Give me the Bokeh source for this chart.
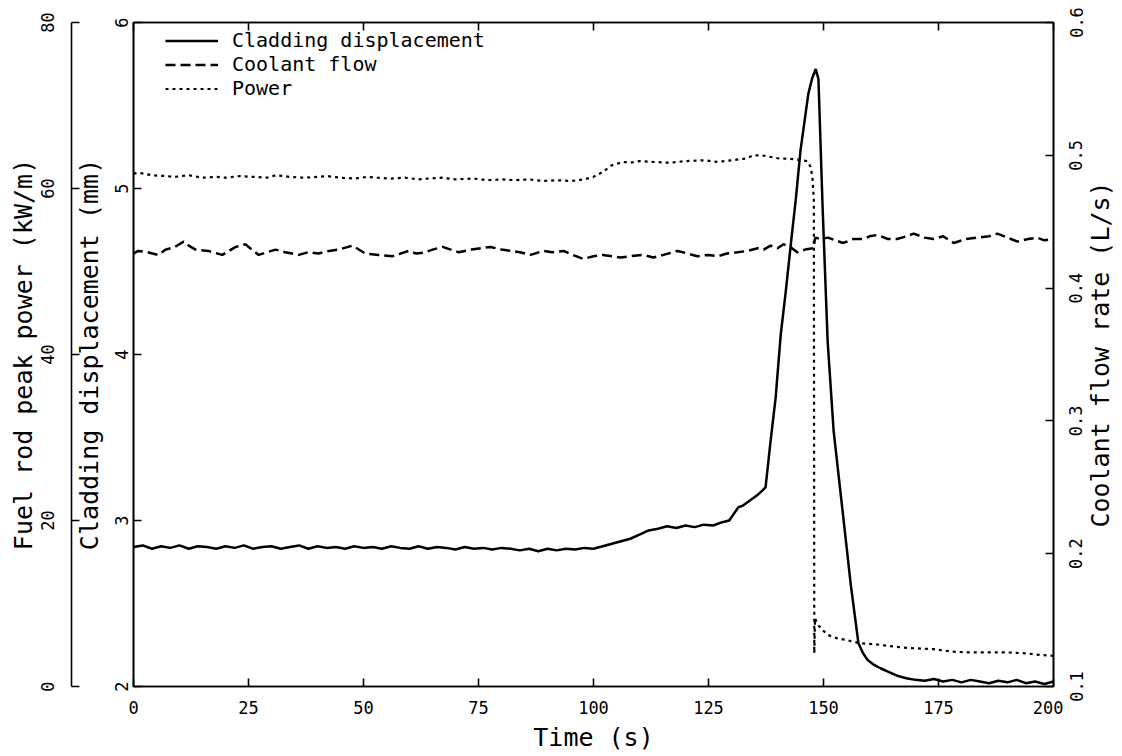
from math import pi
from bokeh.plotting import figure
from bokeh.layouts import row
from bokeh.models import (Range1d, LinearAxis, FixedTicker, Legend,
                          CustomLabelingPolicy)
from bokeh.embed import file_html
from bokeh.resources import INLINE

# ---------------- data ----------------
clad_t = [0, 2, 4, 6, 8, 10, 12, 14, 16, 18,
          20, 22, 24, 26, 28, 30, 32, 34, 36, 38,
          40, 42, 44, 46, 48, 50, 52, 54, 56, 58,
          60, 62, 64, 66, 68, 70, 72, 74, 76, 78,
          80, 82, 84, 86, 88, 90, 92, 94, 96, 98,
          100, 102, 104, 106, 108, 110, 112, 114, 116, 118,
          120, 122, 124, 126, 128, 129.5, 130.5, 131.5, 132.5, 134,
          135.5, 136.7, 137.4, 138.5, 139.6, 140.7, 141.8, 142.8, 144, 145,
          146, 146.7, 147.5, 148.3, 148.9, 149.8, 150.9, 152.2, 154.3, 155.9,
          157.6, 158.6, 159.6, 161, 162.4, 164, 166, 168, 170, 172,
          174, 176, 178, 180, 182, 184, 186, 188, 190, 192,
          194, 196, 198, 200]
clad_mm = [2.84, 2.85, 2.83, 2.845, 2.835, 2.85, 2.83, 2.845, 2.84, 2.83,
           2.845, 2.835, 2.85, 2.83, 2.84, 2.845, 2.83, 2.84, 2.85, 2.83,
           2.845, 2.835, 2.84, 2.83, 2.845, 2.835, 2.84, 2.83, 2.845, 2.835,
           2.83, 2.845, 2.83, 2.84, 2.835, 2.825, 2.84, 2.83, 2.835, 2.825,
           2.835, 2.83, 2.82, 2.83, 2.815, 2.83, 2.82, 2.83, 2.825, 2.835,
           2.83, 2.845, 2.86, 2.875, 2.89, 2.915, 2.94, 2.95, 2.965, 2.955,
           2.97, 2.96, 2.975, 2.97, 2.99, 3.0, 3.04, 3.08, 3.09, 3.12,
           3.15, 3.18, 3.2, 3.48, 3.74, 4.12, 4.38, 4.64, 4.94, 5.23,
           5.43, 5.57, 5.66, 5.72, 5.66, 4.89, 4.08, 3.54, 3.02, 2.62,
           2.26, 2.2, 2.16, 2.13, 2.11, 2.09, 2.065, 2.05, 2.04, 2.035,
           2.045, 2.03, 2.04, 2.025, 2.04, 2.03, 2.02, 2.035, 2.025, 2.04,
           2.02, 2.03, 2.015, 2.03]

flow_t = [0, 1, 3, 5.4, 7, 9, 10.9, 12, 13.5, 16.3,
          19.3, 22.2, 24.3, 27.2, 29, 30.9, 33, 35.9, 38, 40.2,
          42.5, 44.6, 47.6, 50.4, 53.3, 56.3, 59.8, 61.5, 63.5, 65,
          67.2, 70.7, 73.5, 77.6, 80, 82, 84, 86.3, 89.1, 91,
          93.5, 95.5, 97.8, 100, 102, 104, 105.9, 108, 110.9, 113,
          115.2, 118.3, 120.5, 122.6, 125, 127, 129, 131.3, 133.5, 135.7,
          137, 138.5, 140, 141.3, 142.8, 144.3, 146, 147.8, 148.2, 149.3,
          151, 152.5, 154.3, 156.5, 158.7, 160, 161.7, 164, 166, 168,
          169.6, 172, 173.9, 176, 178.3, 181, 183.5, 186, 187.8, 190,
          192.2, 194.5, 196.5, 198, 200]
flow_ls = [0.426, 0.428, 0.427, 0.425, 0.429, 0.431, 0.435, 0.432, 0.429, 0.428,
           0.425, 0.431, 0.433, 0.425, 0.427, 0.429, 0.427, 0.425, 0.427, 0.426,
           0.428, 0.429, 0.432, 0.426, 0.425, 0.424, 0.428, 0.426, 0.427, 0.429,
           0.431, 0.427, 0.429, 0.431, 0.429, 0.428, 0.427, 0.425, 0.428, 0.427,
           0.428, 0.425, 0.422, 0.424, 0.425, 0.424, 0.423, 0.424, 0.425, 0.423,
           0.425, 0.428, 0.426, 0.424, 0.425, 0.424, 0.426, 0.427, 0.428, 0.430,
           0.429, 0.432, 0.430, 0.433, 0.431, 0.427, 0.429, 0.430, 0.438, 0.437,
           0.438, 0.436, 0.434, 0.437, 0.437, 0.439, 0.440, 0.437, 0.437, 0.439,
           0.441, 0.438, 0.437, 0.439, 0.434, 0.437, 0.438, 0.439, 0.441, 0.438,
           0.435, 0.437, 0.438, 0.436, 0.437]

power_t = [0, 1.2, 4, 7, 9, 12, 15, 18, 20, 23,
           26, 29, 31, 34, 37, 40, 42, 45, 48, 51,
           53, 56, 59, 62, 64, 67, 70, 74, 77, 80,
           83, 86, 89, 92, 95, 98, 100, 102, 103, 104,
           105.2, 106.5, 108, 110, 113, 116.7, 120, 124, 127, 130,
           133, 134.8, 136.5, 138.5, 140.5, 142.2, 144, 145, 146.5, 147.2,
           147.6, 147.9, 148.0, 148.15, 148.3, 149, 150, 151, 153, 155,
           158, 161, 164, 167, 170, 174, 178, 182, 186, 190,
           194, 197, 200]
power_kw = [61.8, 61.9, 61.6, 61.5, 61.4, 61.6, 61.3, 61.4, 61.3, 61.5,
            61.4, 61.3, 61.6, 61.4, 61.3, 61.4, 61.5, 61.3, 61.2, 61.4,
            61.3, 61.2, 61.3, 61.1, 61.2, 61.3, 61.1, 61.2, 61.0, 61.1,
            61.0, 61.1, 60.9, 61.0, 60.9, 61.1, 61.4, 62.0, 62.4, 62.8,
            63.0, 63.2, 63.1, 63.3, 63.2, 63.1, 63.3, 63.4, 63.2, 63.4,
            63.6, 64.0, 64.0, 63.8, 63.6, 63.6, 63.5, 63.4, 63.3, 62.6,
            61.3, 58.6, 4.0, 8.2, 8.0, 7.3, 6.7, 6.2, 5.8, 5.6,
            5.2, 5.1, 4.9, 4.7, 4.6, 4.5, 4.2, 4.1, 4.1, 4.1,
            4.0, 3.8, 3.7]

time_ticks = [0, 25, 50, 75, 100, 125, 150, 175, 200]
clad_ticks = [2, 3, 4, 5, 6]
power_ticks = [0, 20, 40, 60, 80]
flow_ticks = [0.1, 0.2, 0.3, 0.4, 0.5, 0.6]

labels = ["Cladding displacement", "Coolant flow", "Power"]
x_label = "Time (s)"
clad_label = "Cladding displacement (mm)"
power_label = "Fuel rod peak power (kW/m)"
flow_label = "Coolant flow rate (L/s)"

# ---------------- layout constants ----------------
FONT = "DejaVu Sans Mono"
TICK_SIZE = "17px"
TITLE_SIZE = "25px"
TOTAL_W, H = 1122, 756
LEFT, TOP, BOTTOM, RIGHT_GAP = 133, 22, 70, 10
FRAME_W = 920
MAIN_W = LEFT + FRAME_W + RIGHT_GAP
SIDE_W = TOTAL_W - MAIN_W
X0, X1 = 0, 200
F0, F1 = 0.1, 0.6

p = figure(width=MAIN_W, height=H,
           x_range=Range1d(X0, X1), y_range=Range1d(2, 6),
           output_backend="svg", toolbar_location=None,
           min_border_left=LEFT, min_border_right=RIGHT_GAP,
           min_border_top=TOP, min_border_bottom=BOTTOM)
p.extra_y_ranges = {"power": Range1d(0, 80), "flow": Range1d(F0, F1)}
p.grid.visible = False
p.outline_line_color = "black"
p.outline_line_width = 1.6
p.background_fill_color = "white"
p.border_fill_color = "white"

no_labels = CustomLabelingPolicy(code="return new Set()")


def style(ax):
    ax.major_tick_in = 8
    ax.major_tick_out = 0
    ax.minor_tick_in = 0
    ax.minor_tick_out = 0
    ax.axis_line_width = 1.6
    ax.axis_line_color = "black"
    ax.major_tick_line_width = 1.6
    ax.major_tick_line_color = "black"
    ax.major_label_text_font = FONT
    ax.major_label_text_font_size = TICK_SIZE
    ax.major_label_text_color = "black"
    ax.axis_label_text_font = FONT
    ax.axis_label_text_font_size = TITLE_SIZE
    ax.axis_label_text_font_style = "normal"
    ax.axis_label_text_color = "black"


# bottom axis
xa = p.xaxis[0]
style(xa)
xa.ticker = FixedTicker(ticks=time_ticks)
xa.axis_label = x_label
xa.major_label_standoff = 14
xa.axis_label_standoff = 6

# top axis (ticks only)
ta = LinearAxis(ticker=FixedTicker(ticks=time_ticks), major_label_policy=no_labels)
style(ta)
ta.major_label_text_font_size = "1px"
ta.major_label_standoff = 0
p.add_layout(ta, "above")

# inner left axis: cladding displacement
ya = p.yaxis[0]
style(ya)
ya.major_label_orientation = "vertical"
ya.ticker = FixedTicker(ticks=clad_ticks)
ya.axis_label = clad_label
ya.major_label_standoff = 6
ya.axis_label_standoff = 8

# outer left axis: power
pa = LinearAxis(y_range_name="power", ticker=FixedTicker(ticks=power_ticks),
                axis_label=power_label)
style(pa)
pa.major_label_orientation = "vertical"
pa.major_label_standoff = 18
pa.axis_label_standoff = 0
p.add_layout(pa, "left")

# right axis: coolant flow ticks (its labels are drawn by the side panel)
fa = LinearAxis(y_range_name="flow", ticker=FixedTicker(ticks=flow_ticks),
                major_label_policy=no_labels)
style(fa)
fa.major_label_text_font_size = "1px"
fa.major_label_standoff = 0
p.add_layout(fa, "right")

# ---------------- lines ----------------
r1 = p.line(clad_t, clad_mm, line_color="black", line_width=2.5)
r2 = p.line(flow_t, flow_ls, y_range_name="flow", line_color="black",
            line_width=2.5, line_dash="10 5")
r3 = p.line(power_t, power_kw, y_range_name="power", line_color="black",
            line_width=2.2, line_dash="3 4")

legend = Legend(items=[(labels[0], [r1]), (labels[1], [r2]), (labels[2], [r3])],
                location=(32, 586), border_line_alpha=0, background_fill_alpha=0,
                glyph_width=53, glyph_height=21, label_height=21,
                label_standoff=14, spacing=0, padding=0, margin=0,
                label_text_font=FONT, label_text_font_size="20px",
                label_text_color="black")
p.add_layout(legend)

# ---------------- side panel: coolant-flow labels reading bottom-to-top ----------------
SIDE_FRAME_LEFT = 56
side = figure(width=SIDE_W, height=H,
              x_range=Range1d(0, 1), y_range=Range1d(F0, F1),
              output_backend="svg", toolbar_location=None,
              min_border_left=SIDE_FRAME_LEFT, min_border_right=0,
              min_border_top=TOP, min_border_bottom=BOTTOM,
              x_axis_location=None)
side.grid.visible = False
side.outline_line_color = None
side.background_fill_color = "white"
side.border_fill_color = "white"

# axis next to the side frame: carries only the title
title_ax = side.yaxis[0]
style(title_ax)
title_ax.ticker = FixedTicker(ticks=flow_ticks)
title_ax.major_label_policy = no_labels
title_ax.major_label_text_font_size = "1px"
title_ax.major_label_standoff = 0
title_ax.axis_label = flow_label
title_ax.axis_label_standoff = 0
title_ax.axis_line_color = None
title_ax.major_tick_in = 0

# outer axis: carries only the tick labels
lab_ax = LinearAxis(ticker=FixedTicker(ticks=flow_ticks))
style(lab_ax)
lab_ax.major_label_orientation = "vertical"
lab_ax.major_label_standoff = 0
lab_ax.axis_line_color = None
lab_ax.major_tick_in = 0
side.add_layout(lab_ax, "left")

layout = row(p, side, spacing=0)
open("out.html", "w").write(file_html(layout, INLINE))
